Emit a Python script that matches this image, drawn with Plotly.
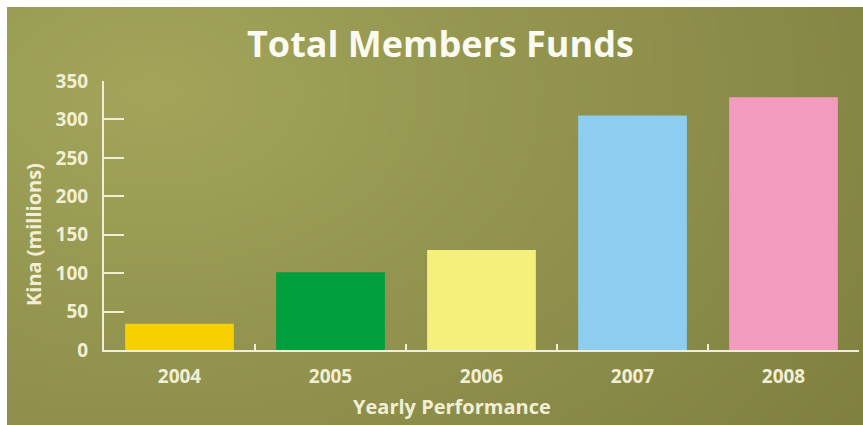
import base64, struct, zlib, math
import plotly.graph_objects as go

# ---- data ----
years = ["2004", "2005", "2006", "2007", "2008"]
funds = [34, 101, 130, 305, 329]
bar_colors = ["#f6d000", "#009e3d", "#f5f07c", "#8ccdf0", "#f29bbf"]
y_ticks = [0, 50, 100, 150, 200, 250, 300, 350]

W, H = 863, 425
L, R, T, B = 104, 4, 81, 75
PW, PH = W - L - R, H - T - B

def px_x(px):
    return (px - L) / PW

def px_y(py):
    return (H - B - py) / PH

# ---- background gradient image (style only) ----
def make_png(w, h):
    light = (162, 165, 90)
    dark = (126, 127, 64)
    rows = []
    for j in range(h):
        row = bytearray([0])
        for i in range(w):
            X = i / (w - 1) * 856 + 7
            Y = j / (h - 1) * 418 + 7
            d = math.hypot((X - 150) * 1.0, (Y - 90) * 1.5)
            t = min(1.0, d / 900.0)
            for k in range(3):
                row.append(int(round(light[k] + (dark[k] - light[k]) * t)))
        rows.append(bytes(row))
    raw = b"".join(rows)
    def chunk(tag, data):
        c = struct.pack(">I", len(data)) + tag + data
        return c + struct.pack(">I", zlib.crc32(tag + data) & 0xffffffff)
    png = b"\x89PNG\r\n\x1a\n"
    png += chunk(b"IHDR", struct.pack(">IIBBBBB", w, h, 8, 2, 0, 0, 0))
    png += chunk(b"IDAT", zlib.compress(raw, 9))
    png += chunk(b"IEND", b"")
    return "data:image/png;base64," + base64.b64encode(png).decode()

bg = make_png(172, 84)

cream = "#f2eed4"
font_family = "Open Sans"

fig = go.Figure(go.Bar(
    x=years, y=funds, marker=dict(color=bar_colors, line=dict(width=0)),
    width=0.72, hoverinfo="x+y",
))

fig.update_layout(
    width=W, height=H,
    margin=dict(l=L, r=R, t=T, b=B),
    paper_bgcolor="white",
    plot_bgcolor="rgba(0,0,0,0)",
    showlegend=False,
    font=dict(family=font_family, color=cream),
    images=[dict(
        source=bg, xref="paper", yref="paper",
        x=px_x(7), y=px_y(7), sizex=856 / PW, sizey=418 / PH,
        xanchor="left", yanchor="top", sizing="stretch", layer="below",
    )],
    xaxis=dict(
        type="category", showline=True, linecolor=cream, linewidth=2,
        ticks="inside", tickson="boundaries", ticklen=6, tickwidth=1.5, tickcolor=cream,
        showgrid=False, zeroline=False,
        tickfont=dict(size=19, color=cream, family=font_family, weight="bold"),
        ticklabelstandoff=8,
        range=[-0.5, 4.5],
    ),
    yaxis=dict(
        range=[0, 350], tickvals=y_ticks, showline=True, linecolor=cream, linewidth=2,
        ticks="inside", ticklen=20, tickwidth=1.5, tickcolor=cream,
        showgrid=False, zeroline=False,
        tickfont=dict(size=19, color=cream, family=font_family, weight="bold"),
        ticklabelstandoff=10,
    ),
    annotations=[
        dict(text="Total Members Funds", xref="paper", yref="paper",
             x=px_x(440), y=px_y(43), showarrow=False, xanchor="center", yanchor="middle",
             font=dict(size=36, color="#fbfaf0", family=font_family, weight="bold")),
        dict(text="Yearly Performance", xref="paper", yref="paper",
             x=px_x(452), y=px_y(406), showarrow=False, xanchor="center", yanchor="middle",
             font=dict(size=20, color=cream, family=font_family, weight="bold")),
        dict(text="Kina (millions)", xref="paper", yref="paper",
             x=px_x(33), y=px_y(235), showarrow=False, xanchor="center", yanchor="middle",
             textangle=-90,
             font=dict(size=20, color=cream, family=font_family, weight="bold")),
    ],
)

fig.write_html("out.html")
